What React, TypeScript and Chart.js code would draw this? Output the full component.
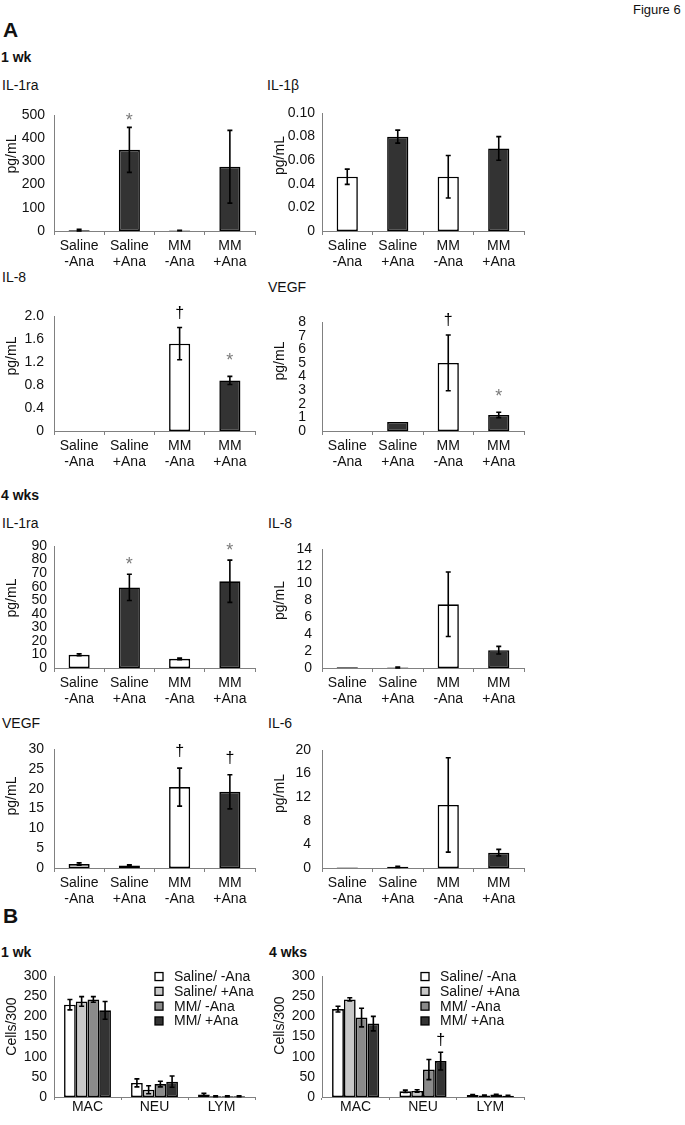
import React, { useEffect, useRef } from "react";
import { Chart, registerables } from "chart.js";
Chart.register(...registerables);

const FONT = '"Liberation Sans", Arial, Helvetica, sans-serif';
const TEXT = "#111111";
const AXIS = "#808080";

// ---------- Panel A data ----------
const groupLabels = [["Saline", "-Ana"], ["Saline", "+Ana"], ["MM", "-Ana"], ["MM", "+Ana"]];
const groupColors = ["#ffffff", "#333333", "#ffffff", "#333333"];

// 1 wk
const il1ra1wk = [3, 350, 2, 277];
const il1ra1wkErr = [4, 97, 1, 157];
const il1ra1wkMarks = ["", "*", "", ""];
const il1ra1wkTicks = [0, 100, 200, 300, 400, 500];
const il1ra1wkTickLabels = ["0", "100", "200", "300", "400", "500"];

const il1b1wk = [0.046, 0.08, 0.046, 0.07];
const il1b1wkErr = [0.0065, 0.0055, 0.018, 0.01];
const il1b1wkMarks = ["", "", "", ""];
const il1b1wkTicks = [0, 0.02, 0.04, 0.06, 0.08, 0.1];
const il1b1wkTickLabels = ["0", "0.02", "0.04", "0.06", "0.08", "0.10"];

const il81wk = [0, 0, 1.52, 0.88];
const il81wkErr = [0, 0, 0.28, 0.07];
const il81wkMarks = ["", "", "†", "*"];
const il81wkTicks = [0, 0.4, 0.8, 1.2, 1.6, 2.0];
const il81wkTickLabels = ["0", "0.4", "0.8", "1.2", "1.6", "2.0"];

const vegf1wk = [0, 0.67, 5.0, 1.18];
const vegf1wkErr = [0, 0, 2.05, 0.2];
const vegf1wkMarks = ["", "", "†", "*"];
const vegf1wkTicks = [0, 1, 2, 3, 4, 5, 6, 7, 8];
const vegf1wkTickLabels = ["0", "1", "2", "3", "4", "5", "6", "7", "8"];

// 4 wks
const il1ra4wk = [9.7, 59.5, 6.8, 64];
const il1ra4wkErr = [0.7, 9.7, 0.6, 15.6];
const il1ra4wkMarks = ["", "*", "", "*"];
const il1ra4wkTicks = [0, 10, 20, 30, 40, 50, 60, 70, 80, 90];
const il1ra4wkTickLabels = ["0", "10", "20", "30", "40", "50", "60", "70", "80", "90"];

const il84wk = [0.1, 0.05, 7.5, 2.1];
const il84wkErr = [0, 0.05, 3.8, 0.45];
const il84wkMarks = ["", "", "", ""];
const il84wkTicks = [0, 2, 4, 6, 8, 10, 12, 14];
const il84wkTickLabels = ["0", "2", "4", "6", "8", "10", "12", "14"];

const vegf4wk = [1.0, 0.6, 20.4, 19.2];
const vegf4wkErr = [0.3, 0.2, 4.8, 4.3];
const vegf4wkMarks = ["", "", "†", "†"];
const vegf4wkTicks = [0, 5, 10, 15, 20, 25, 30];
const vegf4wkTickLabels = ["0", "5", "10", "15", "20", "25", "30"];

const il64wk = [0.1, 0.2, 10.7, 2.6];
const il64wkErr = [0, 0.1, 8.0, 0.55];
const il64wkMarks = ["", "", "", ""];
const il64wkTicks = [0, 4, 8, 12, 16, 20];
const il64wkTickLabels = ["0", "4", "8", "12", "16", "20"];

// ---------- Panel B data ----------
const cellTypes = ["MAC", "NEU", "LYM"];
const seriesNames = ["Saline/ -Ana", "Saline/ +Ana", "MM/ -Ana", "MM/ +Ana"];
const seriesColors = ["#ffffff", "#c8c8c8", "#8a8a8a", "#333333"];

const salineMinus1wk = [229, 35, 6];
const salineMinus1wkErr = [13, 10, 3];
const salinePlus1wk = [237, 18, 2];
const salinePlus1wkErr = [12, 10, 1];
const mmMinus1wk = [242, 32, 2];
const mmMinus1wkErr = [7, 7, 1];
const mmPlus1wk = [215, 38, 2];
const mmPlus1wkErr = [22, 14, 1];

const salineMinus4wk = [218, 14, 5];
const salineMinus4wkErr = [7, 3, 1];
const salinePlus4wk = [242, 15, 4];
const salinePlus4wkErr = [4, 3, 1];
const mmMinus4wk = [197, 68, 6];
const mmMinus4wkErr = [23, 25, 1];
const mmPlus4wk = [182, 89, 3];
const mmPlus4wkErr = [18, 22, 1];
const mmPlus4wkMarks = ["", "†", ""];

const cellTicks = [0, 50, 100, 150, 200, 250, 300];
const cellTickLabels = ["0", "50", "100", "150", "200", "250", "300"];

// ---------- plugin: error bars, significance marks, legend, y title ----------
const decorPlugin = {
  id: "decor",
  afterDatasetsDraw(chart: any, _args: any, opts: any) {
    const ctx = chart.ctx;
    const ys = chart.scales.y;
    chart.data.datasets.forEach((ds: any, di: number) => {
      const meta = chart.getDatasetMeta(di);
      meta.data.forEach((bar: any, i: number) => {
        const v = ds.data[i];
        const e = ds.errors ? ds.errors[i] : 0;
        const x = bar.x;
        let top = ys.getPixelForValue(v);
        if (e > 0) {
          const yt = ys.getPixelForValue(v + e);
          const yb = ys.getPixelForValue(Math.max(v - e, ys.min));
          ctx.save();
          ctx.strokeStyle = "#000";
          ctx.lineWidth = 1.6;
          ctx.beginPath();
          ctx.moveTo(x, yt);
          ctx.lineTo(x, yb);
          ctx.moveTo(x - 2.5, yt);
          ctx.lineTo(x + 2.5, yt);
          ctx.moveTo(x - 2.5, yb);
          ctx.lineTo(x + 2.5, yb);
          ctx.stroke();
          ctx.restore();
          top = yt;
        }
        const m = ds.marks ? ds.marks[i] : "";
        if (m) {
          ctx.save();
          ctx.textAlign = "center";
          ctx.textBaseline = "middle";
          if (m === "*") {
            ctx.font = `18px ${FONT}`;
            ctx.fillStyle = "#7a7a7a";
            ctx.fillText("*", x, top - opts.starGap + 4.5);
          } else {
            ctx.font = `16px ${FONT}`;
            ctx.fillStyle = "#000";
            ctx.fillText(m, x, top - opts.daggerGap);
          }
          ctx.restore();
        }
      });
    });
  },
  afterDraw(chart: any, _args: any, opts: any) {
    const ctx = chart.ctx;
    const area = chart.chartArea;
    // y axis title
    ctx.save();
    ctx.font = `14px ${FONT}`;
    ctx.fillStyle = TEXT;
    ctx.textAlign = "center";
    ctx.textBaseline = "middle";
    ctx.translate(chart.scales.y.left + 12.4, (area.top + area.bottom) / 2 + opts.yTitleShift);
    ctx.rotate(-Math.PI / 2);
    ctx.fillText(opts.yTitle, 0, 0);
    ctx.restore();
    // legend
    if (opts.legend) {
      const { dx, dy, rowH } = opts.legend;
      ctx.save();
      ctx.font = `14px ${FONT}`;
      ctx.textAlign = "left";
      ctx.textBaseline = "middle";
      chart.data.datasets.forEach((ds: any, i: number) => {
        const cy = area.top + dy + i * rowH;
        const x0 = area.left + dx;
        ctx.fillStyle = ds.backgroundColor;
        ctx.fillRect(x0, cy - 4, 8, 8);
        ctx.strokeStyle = "#000";
        ctx.lineWidth = 1.3;
        ctx.strokeRect(x0, cy - 4, 8, 8);
        ctx.fillStyle = TEXT;
        ctx.fillText(ds.label, x0 + 19, cy + 0.5);
      });
      ctx.restore();
    }
  },
};

type Series = { label: string; data: number[]; errors: number[]; marks: string[]; color: string | string[] };
type Spec = {
  plot: [number, number, number, number];
  categories: (string | string[])[];
  series: Series[];
  ticks: number[];
  tickLabels: string[];
  yTitle: string;
  yTitleShift: number;
  tickPad: number;
  xAxisH: number;
  xTickLen: number;
  xTickPad: number;
  barPct: number;
  catPct: number;
  starGap?: number;
  daggerGap?: number;
  legend?: { dx: number; dy: number; rowH: number };
};

const YW = 54;
const PT = 12;
const PR = 12;

function BarPanel({ spec }: { spec: Spec }) {
  const ref = useRef<HTMLCanvasElement>(null);
  const [L, T, R, B] = spec.plot;
  const cLeft = L - YW;
  const cTop = T - PT;
  const w = R - L + YW + PR;
  const h = B - T + PT + spec.xAxisH;
  useEffect(() => {
    if (!ref.current) return;
    const chart = new Chart(ref.current, {
      type: "bar",
      data: {
        labels: spec.categories as any,
        datasets: spec.series.map((s) => ({
          label: s.label,
          data: s.data,
          errors: s.errors,
          marks: s.marks,
          backgroundColor: s.color,
          borderColor: "#000",
          borderWidth: 1.6,
          borderSkipped: false,
          barPercentage: spec.barPct,
          categoryPercentage: spec.catPct,
        })) as any,
      },
      options: {
        responsive: false,
        animation: false,
        events: [],
        layout: { padding: { top: PT, right: PR, left: 0, bottom: 0 } },
        plugins: {
          legend: { display: false },
          tooltip: { enabled: false },
          title: { display: false },
          decor: {
            yTitle: spec.yTitle,
            yTitleShift: spec.yTitleShift,
            starGap: spec.starGap ?? 14,
            daggerGap: spec.daggerGap ?? 14,
            legend: spec.legend,
          },
        } as any,
        scales: {
          x: {
            type: "category",
            grid: {
              display: true,
              drawOnChartArea: false,
              drawTicks: true,
              tickLength: spec.xTickLen,
              color: AXIS,
              lineWidth: 1,
              offset: true,
            },
            border: { display: true, color: AXIS, width: 1 },
            ticks: {
              font: { family: FONT, size: 14, lineHeight: 1.15 },
              color: TEXT,
              padding: spec.xTickPad,
              autoSkip: false,
              maxRotation: 0,
              minRotation: 0,
            },
            afterFit: (s: any) => {
              s.height = spec.xAxisH;
            },
          },
          y: {
            type: "linear",
            min: spec.ticks[0],
            max: spec.ticks[spec.ticks.length - 1],
            grid: { display: false, drawTicks: false },
            border: { display: true, color: AXIS, width: 1 },
            ticks: {
              font: { family: FONT, size: 14, lineHeight: 1.15 },
              color: TEXT,
              padding: spec.tickPad,
              autoSkip: false,
              callback: (_v: any, i: number) => spec.tickLabels[i],
            },
            afterBuildTicks: (s: any) => {
              s.ticks = spec.ticks.map((v) => ({ value: v }));
            },
            afterFit: (s: any) => {
              s.width = YW;
            },
          },
        } as any,
      },
      plugins: [decorPlugin as any],
    });
    return () => chart.destroy();
  }, []);
  return (
    <canvas
      ref={ref}
      width={w}
      height={h}
      style={{ position: "absolute", left: cLeft, top: cTop, width: w, height: h }}
    />
  );
}

function aPanel(
  plot: [number, number, number, number],
  data: number[],
  errors: number[],
  marks: string[],
  ticks: number[],
  tickLabels: string[],
  tickPad: number,
  yTitleShift: number,
  starGap: number,
  daggerGap: number
): Spec {
  return {
    plot,
    categories: groupLabels,
    series: [{ label: "value", data, errors, marks, color: groupColors }],
    ticks,
    tickLabels,
    yTitle: "pg/mL",
    yTitleShift,
    tickPad,
    xAxisH: 45,
    xTickLen: 4,
    xTickPad: 3,
    barPct: 0.42,
    catPct: 1,
    starGap,
    daggerGap,
  };
}

const specs: Spec[] = [
  aPanel([54, 110, 255, 231], il1ra1wk, il1ra1wkErr, il1ra1wkMarks, il1ra1wkTicks, il1ra1wkTickLabels, 9, -19, 11, 14),
  aPanel([322, 110, 524, 231], il1b1wk, il1b1wkErr, il1b1wkMarks, il1b1wkTicks, il1b1wkTickLabels, 7, -16.5, 11, 14),
  aPanel([54, 310, 255, 431], il81wk, il81wkErr, il81wkMarks, il81wkTicks, il81wkTickLabels, 10, -17.5, 20, 14),
  aPanel([322, 310, 524, 431], vegf1wk, vegf1wkErr, vegf1wkMarks, vegf1wkTicks, vegf1wkTickLabels, 16, -15.5, 20, 14),
  aPanel([54, 543, 255, 668], il1ra4wk, il1ra4wkErr, il1ra4wkMarks, il1ra4wkTicks, il1ra4wkTickLabels, 7, -9, 14, 14),
  aPanel([322, 543, 524, 668], il84wk, il84wkErr, il84wkMarks, il84wkTicks, il84wkTickLabels, 10, -8, 14, 14),
  aPanel([54, 743, 255, 868], vegf4wk, vegf4wkErr, vegf4wkMarks, vegf4wkTicks, vegf4wkTickLabels, 10, -12.5, 14, 16),
  aPanel([322, 743, 524, 868], il64wk, il64wkErr, il64wkMarks, il64wkTicks, il64wkTickLabels, 11, -15.5, 14, 16),
  {
    plot: [54, 973, 255, 1097],
    categories: cellTypes,
    series: [
      { label: seriesNames[0], data: salineMinus1wk, errors: salineMinus1wkErr, marks: [], color: seriesColors[0] },
      { label: seriesNames[1], data: salinePlus1wk, errors: salinePlus1wkErr, marks: [], color: seriesColors[1] },
      { label: seriesNames[2], data: mmMinus1wk, errors: mmMinus1wkErr, marks: [], color: seriesColors[2] },
      { label: seriesNames[3], data: mmPlus1wk, errors: mmPlus1wkErr, marks: [], color: seriesColors[3] },
    ],
    ticks: cellTicks,
    tickLabels: cellTickLabels,
    yTitle: "Cells/300",
    yTitleShift: -10,
    tickPad: 7,
    xAxisH: 25,
    xTickLen: 3,
    xTickPad: -1,
    barPct: 1,
    catPct: 0.7,
    legend: { dx: 101, dy: 0.5, rowH: 14.8 },
  },
  {
    plot: [322, 973, 524, 1097],
    categories: cellTypes,
    series: [
      { label: seriesNames[0], data: salineMinus4wk, errors: salineMinus4wkErr, marks: [], color: seriesColors[0] },
      { label: seriesNames[1], data: salinePlus4wk, errors: salinePlus4wkErr, marks: [], color: seriesColors[1] },
      { label: seriesNames[2], data: mmMinus4wk, errors: mmMinus4wkErr, marks: [], color: seriesColors[2] },
      { label: seriesNames[3], data: mmPlus4wk, errors: mmPlus4wkErr, marks: mmPlus4wkMarks, color: seriesColors[3] },
    ],
    ticks: cellTicks,
    tickLabels: cellTickLabels,
    yTitle: "Cells/300",
    yTitleShift: -11,
    tickPad: 7,
    xAxisH: 25,
    xTickLen: 3,
    xTickPad: -1,
    barPct: 1,
    catPct: 0.7,
    daggerGap: 12,
    legend: { dx: 99, dy: 0.5, rowH: 14.8 },
  },
];

function Txt({ x, cy, size, bold, children }: { x: number; cy: number; size: number; bold?: boolean; children: any }) {
  return (
    <div
      style={{
        position: "absolute",
        left: x,
        top: cy - size / 2,
        fontSize: size,
        lineHeight: size + "px",
        fontWeight: bold ? "bold" : "normal",
        fontFamily: FONT,
        color: TEXT,
        whiteSpace: "nowrap",
      }}
    >
      {children}
    </div>
  );
}

export default function App() {
  return (
    <div style={{ position: "absolute", left: 0, top: 0, width: 685, height: 1125, background: "#fff", overflow: "hidden" }}>
      <Txt x={633} cy={9} size={13}>Figure 6</Txt>
      <Txt x={3} cy={29.5} size={21} bold>A</Txt>
      <Txt x={1} cy={57} size={14} bold>1 wk</Txt>
      <Txt x={2} cy={85} size={14}>IL-1ra</Txt>
      <Txt x={267} cy={85} size={14}>IL-1β</Txt>
      <Txt x={2} cy={277} size={14}>IL-8</Txt>
      <Txt x={268} cy={287} size={14}>VEGF</Txt>
      <Txt x={1} cy={495} size={14} bold>4 wks</Txt>
      <Txt x={2} cy={523} size={14}>IL-1ra</Txt>
      <Txt x={268} cy={523} size={14}>IL-8</Txt>
      <Txt x={2} cy={723} size={14}>VEGF</Txt>
      <Txt x={268} cy={723} size={14}>IL-6</Txt>
      <Txt x={3} cy={915} size={21} bold>B</Txt>
      <Txt x={1} cy={951.5} size={14} bold>1 wk</Txt>
      <Txt x={269} cy={951.5} size={14} bold>4 wks</Txt>
      {specs.map((s, i) => (
        <BarPanel key={i} spec={s} />
      ))}
    </div>
  );
}
